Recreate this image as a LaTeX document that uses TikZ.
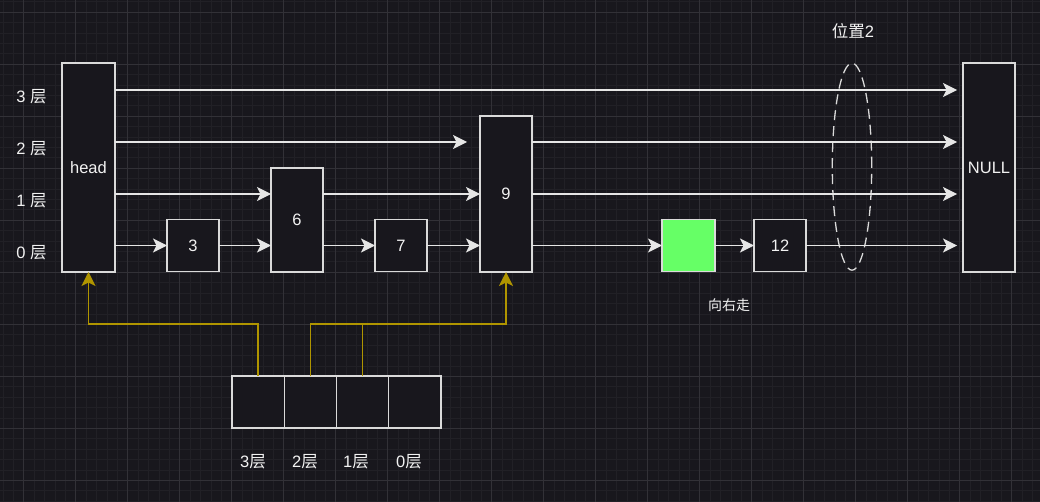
\documentclass[tikz,border=0pt]{standalone}
\usepackage{fontspec}
\setmainfont{Liberation Sans}
\newfontfamily\cjk{Noto Sans CJK SC}
\usetikzlibrary{arrows.meta,shapes.geometric}
\definecolor{bg}{HTML}{18171D}
\definecolor{gridminor}{HTML}{212026}
\definecolor{gridmajor}{HTML}{323137}
\definecolor{boxline}{HTML}{DADADA}
\definecolor{arrline}{HTML}{E6E6E6}
\definecolor{txt}{HTML}{F2F2F2}
\definecolor{ylw}{HTML}{B09500}
\definecolor{grn}{HTML}{66FF66}
\begin{document}
\begin{tikzpicture}[x=1pt,y=-1pt,
  box/.style={draw=boxline, fill=bg, line width=1.3pt, inner sep=0pt, outer sep=0pt,
    text=txt, font=\fontsize{16.5}{19}\selectfont},
  lbl/.style={text=txt, inner sep=0pt, font=\fontsize{16.5}{19}\selectfont},
  tip/.style={-{Stealth[length=14pt 0 0,width=14pt 0,inset=3.5pt 0]}},
  arr/.style={draw=arrline, line width=1.3pt, tip},
  yarr/.style={draw=ylw, line width=1.3pt, tip},
  yline/.style={draw=ylw, line width=1.3pt},
  minorgrid/.style={draw=gridminor, line width=0.8pt},
  majorgrid/.style={draw=gridmajor, line width=1pt}]
\useasboundingbox (0,0) rectangle (1040,502);
\fill[bg] (0,0) rectangle (1040,502);
% grid
\foreach \i in {0,...,99} \draw[minorgrid] ({2.9+10.4*\i},0) -- ({2.9+10.4*\i},502);
\foreach \i in {0,...,48} \draw[minorgrid] (0,{1.9+10.4*\i}) -- (1040,{1.9+10.4*\i});
\foreach \i in {0,...,19} \draw[majorgrid] ({23.7+52*\i},0) -- ({23.7+52*\i},502);
\foreach \i in {0,...,9} \draw[majorgrid] (0,{12.3+52*\i}) -- (1040,{12.3+52*\i});

% level labels
\node[lbl] (l3) at (31.5,96.5) {3 {\cjk 层}};
\node[lbl] (l2) at (31.5,149) {2 {\cjk 层}};
\node[lbl] (l1) at (31.5,201) {1 {\cjk 层}};
\node[lbl] (l0) at (31.5,253) {0 {\cjk 层}};

% nodes
\node[box, minimum width=53pt, minimum height=209pt] (head) at (88.5,167.5) {head};
\node[box, minimum width=52pt, minimum height=209pt] (null) at (989,167.5) {NULL};
\node[box, minimum width=52pt, minimum height=52pt] (n3) at (193,245.5) {3};
\node[box, minimum width=52pt, minimum height=104pt] (n6) at (297,220) {6};
\node[box, minimum width=52pt, minimum height=52pt] (n7) at (401,245.5) {7};
\node[box, minimum width=52pt, minimum height=156pt] (n9) at (506,194) {9};
\node[box, fill=grn, minimum width=53pt, minimum height=52pt] (g) at (688.5,245.5) {};
\node[box, minimum width=52pt, minimum height=52pt] (n12) at (780,245.5) {12};

% dashed ellipse
\node[ellipse, draw=boxline, line width=1.3pt, dash pattern=on 10pt off 6pt,
  minimum width=39.4pt, minimum height=207pt, inner sep=0pt] (pos) at (852,166.7) {};
\node[lbl] (poslbl) at (853,31) {{\cjk 位置}2};

% free ends
\coordinate (e3) at (957,90);
\coordinate (e2a) at (467,142);
\coordinate (e2) at (957,142);
\coordinate (e1) at (957,194);
\coordinate (e0) at (957,245.5);

% level 3
\draw[arr] (head.east |- e3) -- (e3);
% level 2
\draw[arr] (head.east |- e2a) -- (e2a);
\draw[arr] (n9.east |- e2) -- (e2);
% level 1
\draw[arr] (head.east |- e1) -- (n6.west |- e1);
\draw[arr] (n6.east |- e1) -- (n9.west);
\draw[arr] (n9.east) -- (e1);
% level 0
\draw[arr] (head.east |- e0) -- (n3.west);
\draw[arr] (n3.east) -- (n6.west |- e0);
\draw[arr] (n6.east |- e0) -- (n7.west);
\draw[arr] (n7.east) -- (n9.west |- e0);
\draw[arr] (n9.east |- e0) -- (g.west);
\draw[arr] (g.east) -- (n12.west);
\draw[arr] (n12.east) -- (e0);

\node[lbl, font=\fontsize{14}{17}\selectfont] (walk) at (729,305) {\cjk 向右走};

% update array
\node[box, minimum width=52.25pt, minimum height=52pt] (c3) at (258.1,402) {};
\node[box, minimum width=52.25pt, minimum height=52pt] (c2) at (310.4,402) {};
\node[box, minimum width=52.25pt, minimum height=52pt] (c1) at (362.6,402) {};
\node[box, minimum width=52.25pt, minimum height=52pt] (c0) at (414.9,402) {};
\node[lbl] (t3) at (253,462) {3{\cjk 层}};
\node[lbl] (t2) at (305,462) {2{\cjk 层}};
\node[lbl] (t1) at (356,462) {1{\cjk 层}};
\node[lbl] (t0) at (409,462) {0{\cjk 层}};

% yellow pointers
\draw[yarr] (c3.north) -- ++(0,-52) -| (head.south);
\draw[yarr] (c2.north) -- ++(0,-52) -| (n9.south);
\draw[yline] (c1.north) -- ++(0,-52);
\end{tikzpicture}
\end{document}
